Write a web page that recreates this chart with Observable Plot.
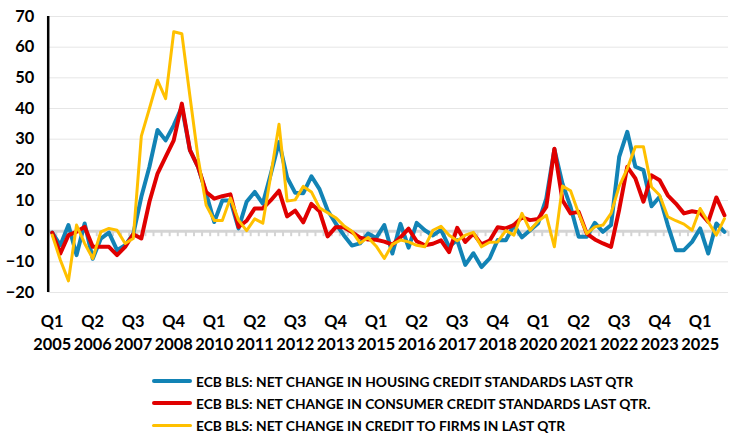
<!DOCTYPE html>
<html><head><meta charset="utf-8">
<script src="https://cdn.jsdelivr.net/npm/d3@7"></script>
<script src="https://cdn.jsdelivr.net/npm/@observablehq/plot@0.6"></script>
<style>
body{margin:0;background:#fff;font-family:Lato,"Open Sans",sans-serif;}
#legend{position:relative;height:75px;width:755px;}
.row{position:absolute;left:152px;display:flex;align-items:center;font-weight:bold;font-size:13.8px;color:#000;white-space:nowrap;height:16px}
.sw{width:40px;margin-right:4px;border-radius:2px}
</style></head><body>
<div id="chart"></div>
<div id="legend"></div>
<script>
// Quarter categories Q1 2005 .. Q4 2025 (84 quarters)
const startYear = 2005;
const nQuarters = 84;
const quarters = Array.from({length: nQuarters}, (_, i) => `Q${i % 4 + 1} ${startYear + Math.floor(i / 4)}`);

// Tick labels shown on the category axis (every 5th quarter)
const tickIndex = [0,5,10,15,20,25,30,35,40,45,50,55,60,65,70,75,80];
const tickLabels = ["Q1\n2005","Q2\n2006","Q3\n2007","Q4\n2008","Q1\n2010","Q2\n2011","Q3\n2012","Q4\n2013","Q1\n2015","Q2\n2016","Q3\n2017","Q4\n2018","Q1\n2020","Q2\n2021","Q3\n2022","Q4\n2023","Q1\n2025"];
const yTicks = [-20,-10,0,10,20,30,40,50,60,70];

const seriesNames = [
  "ECB BLS: NET CHANGE IN HOUSING CREDIT STANDARDS LAST QTR",
  "ECB BLS: NET CHANGE IN CONSUMER CREDIT STANDARDS LAST QTR.",
  "ECB BLS: NET CHANGE IN CREDIT TO FIRMS IN LAST QTR"
];
const seriesColors = ["#1283b5", "#e00000", "#ffc000"];
const seriesWidths = [4, 4, 3];

const housing = [
  -0.5,-4.6,2,-7.8,2.5,-9,-2.4,-0.5,-6.2,-4.6,
  -1,11.2,21,33,29.6,34.5,40.5,26.4,21,12.3,
  3,10,10,0.9,9.6,12.8,9,18.8,29.1,17.5,
  12.5,12.4,17.9,13.7,6.8,2.5,-1.3,-4.7,-4,-0.8,
  -2.2,2,-7.3,2.4,-5.4,2.7,0.3,-1.4,0.4,-5.1,
  -2.9,-11,-7.2,-11.7,-8.9,-2.9,-3,2,-2,0.3,
  2.6,10.6,26.7,15.5,7.9,-1.8,-1.8,2.7,-0.2,2,
  24.2,32.4,21,19.9,8.1,11.2,2,-6.2,-6.2,-3.5,
  0.9,-7.3,2.5,-0.2
];
const consumer = [
  -0.5,-7.3,-1.3,-0.2,1.4,-5.1,-5.1,-5.1,-7.8,-5.1,
  -1,-2.4,9.6,18.8,24.2,29.6,41.6,26.4,21,12.8,
  10.6,11.4,12,1.4,3.4,7.4,7.4,10.1,13.2,4.8,
  6.7,2.9,8.9,6.5,-1.7,1.3,1.3,-0.3,-2.1,-2.7,
  -2.8,-3.4,-4.4,-2,0.8,-3.3,-4.6,-4.1,-3,-6.8,
  1.1,-3.5,-0.8,-4.3,-3.1,1.3,0.9,2,4.5,3.6,
  4,7.9,26.9,10.1,5.8,6.3,-0.8,-2.7,-4,-5.1,
  7,21,17.2,9.6,18.2,16.6,11.7,9,5.8,6.5,
  6,3,11,5.2
];
const firms = [
  -1.3,-9.4,-16.2,2,-4,-8.9,-0.2,0.9,0.3,-4,
  -2.4,31,40,49.2,43.2,65,64.4,44,24,8.5,
  3.5,3.5,10.8,3.6,0.2,4,2.6,18.5,34.9,9.8,
  10.2,14.6,12.8,7.6,6,4.4,1.8,0,-3.9,-2.1,
  -4.9,-8.9,-4.3,-2.9,-3.5,-4.6,-5.1,0.3,1.6,-1.3,
  -3.1,-1.3,-0.4,-5.1,-3.6,-3.5,0.2,-1.3,5.8,0.3,
  3.3,5.2,-5.1,14.7,13.2,5.8,-0.8,1.4,2,5.8,
  14.6,20.4,27.5,27.5,14.4,11.7,4.7,3.4,2.3,0.3,
  7.4,3,-1.3,4.1
];

const seriesValues = [housing, consumer, firms];
const rows = seriesValues.flatMap((vals, s) => vals.map((v, i) => ({i, q: quarters[i], v, s})));
const boundaries = Array.from({length: nQuarters + 1}, (_, k) => k - 0.5);
const labelMap = new Map(tickIndex.map((d, k) => [d, tickLabels[k]]));

const chart = Plot.plot({
  width: 755,
  height: 360,
  marginLeft: 47.7,
  marginRight: 27,
  marginTop: 16,
  marginBottom: 68,
  style: {fontFamily: "Lato, 'Open Sans', sans-serif", background: "#fff"},
  x: {domain: [-0.5, nQuarters - 0.5]},
  y: {domain: [-20, 70]},
  marks: [
    Plot.gridY(yTicks, {stroke: "#e6e6e6", strokeOpacity: 1, strokeWidth: 1}),
    Plot.ruleY([0], {stroke: "#d4d4d4", strokeWidth: 3}),
    Plot.ruleX(boundaries, {y1: 0, y2: -1.8, stroke: "#d4d4d4", strokeWidth: 2}),
    Plot.ruleX([-0.5], {stroke: "#000", strokeWidth: 2.5}),
    Plot.axisY({ticks: yTicks, tickSize: 0, tickPadding: 14, fontSize: 16.4, fontWeight: "bold", fill: "#000", label: null}),
    Plot.axisX({ticks: tickIndex, tickFormat: d => labelMap.get(d), tickSize: 0, tickPadding: 18, fontSize: 16.4, fontWeight: "bold", fill: "#000", lineHeight: 1.4, label: null}),
    ...seriesValues.map((vals, s) => Plot.line(rows.filter(r => r.s === s), {
      x: "i", y: "v", stroke: seriesColors[s], strokeWidth: seriesWidths[s], strokeLinejoin: "round", strokeLinecap: "round"
    }))
  ]
});
document.getElementById("chart").appendChild(chart);

const legend = document.getElementById("legend");
seriesNames.forEach((name, s) => {
  const row = document.createElement("div");
  row.className = "row";
  row.style.top = (13 + s * 22) + "px";
  const sw = document.createElement("div");
  sw.className = "sw";
  sw.style.height = seriesWidths[s] + "px";
  sw.style.background = seriesColors[s];
  const t = document.createElement("span");
  t.textContent = name;
  row.appendChild(sw);
  row.appendChild(t);
  legend.appendChild(row);
});
</script>
</body></html>
